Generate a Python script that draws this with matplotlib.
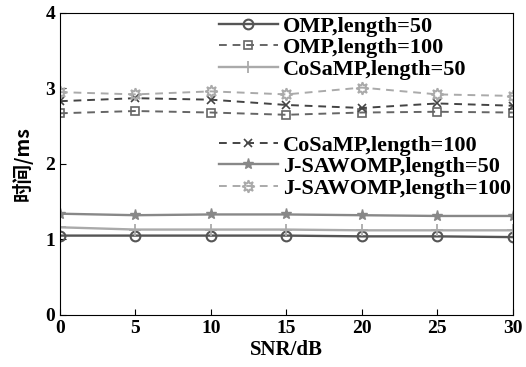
import numpy as np
import matplotlib.pyplot as plt

snr = [0, 5, 10, 15, 20, 25, 30]

omp_50 = [1.05, 1.05, 1.05, 1.05, 1.04, 1.04, 1.03]
omp_100 = [2.67, 2.70, 2.68, 2.65, 2.68, 2.69, 2.68]
cosamp_50 = [1.16, 1.13, 1.13, 1.13, 1.12, 1.12, 1.12]
cosamp_100 = [2.83, 2.87, 2.85, 2.78, 2.74, 2.80, 2.77]
jsaw_50 = [1.34, 1.32, 1.33, 1.33, 1.32, 1.31, 1.31]
jsaw_100 = [2.95, 2.92, 2.96, 2.92, 3.01, 2.92, 2.90]

plt.rcParams['font.family'] = ['Liberation Serif', 'Noto Sans CJK SC']
plt.rcParams['font.weight'] = 'bold'

fig = plt.figure(figsize=(5.26, 3.67), dpi=100)
ax = fig.add_axes([0.114, 0.142, 0.861, 0.823])

dash = (4, 3)
l1, = ax.plot(snr, omp_50, '-', color='#555555', lw=1.7, marker='o', ms=7, mfc='none', mew=1.5, label='OMP,length=50')
l2, = ax.plot(snr, omp_100, '--', dashes=dash, color='#666666', lw=1.4, marker='s', ms=6, mfc='none', mew=1.2, label='OMP,length=100')
l3, = ax.plot(snr, cosamp_50, '-', color='#aaaaaa', lw=1.7, marker='+', ms=9, mew=1.3, label='CoSaMP,length=50')
l4, = ax.plot(snr, cosamp_100, '--', dashes=dash, color='#444444', lw=1.4, marker='x', ms=6, mew=1.2, label='CoSaMP,length=100')
l5, = ax.plot(snr, jsaw_50, '-', color='#888888', lw=1.7, marker='*', ms=8, mfc='#888888', label='J-SAWOMP,length=50')
l6, = ax.plot(snr, jsaw_100, '--', dashes=dash, color='#aaaaaa', lw=1.4, marker=(8, 1, 0), ms=9, mfc='none', mew=1.3, label='J-SAWOMP,length=100')

ax.set_xlim(0, 30)
ax.set_ylim(0, 4)
ax.set_xticks(snr)
ax.set_yticks([0, 1, 2, 3, 4])
ax.tick_params(direction='in', labelsize=14, length=4)
for lab in ax.get_xticklabels() + ax.get_yticklabels():
    lab.set_fontweight('bold')
ax.set_xlabel('SNR/dB', fontsize=15, fontweight='bold', labelpad=2)
ax.set_ylabel('时间/ms', fontsize=14, fontweight='bold', family=['Noto Sans CJK SC'], labelpad=9)

leg_kw = dict(loc='upper left', frameon=False, fontsize=16, handlelength=2.65, handletextpad=0.22,
              labelspacing=0.05, borderaxespad=0, borderpad=0, bbox_transform=fig.transFigure)
leg1 = ax.legend(handles=[l1, l2, l3], bbox_to_anchor=(219 / 526, 1 - 16 / 367), **leg_kw)
ax.add_artist(leg1)
ax.legend(handles=[l4, l5, l6], bbox_to_anchor=(219 / 526, 1 - 135 / 367), **leg_kw)

fig.savefig('out.png', dpi=100)
